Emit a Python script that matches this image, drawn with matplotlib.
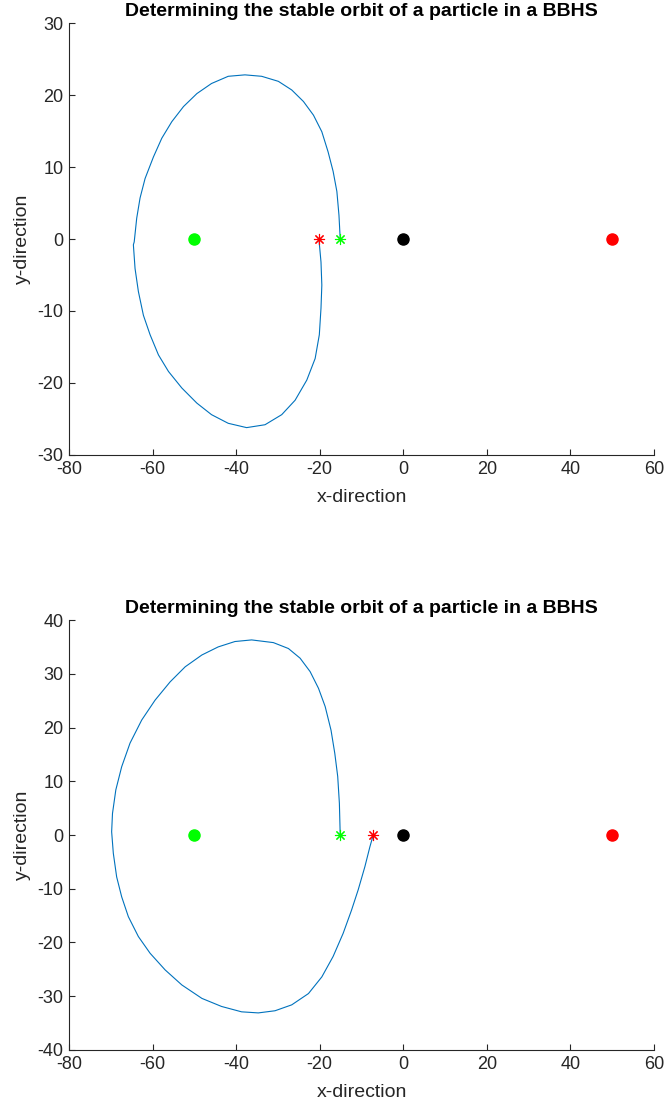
import matplotlib
matplotlib.use('Agg')
import matplotlib.pyplot as plt

plt.rcParams['font.family'] = ['Liberation Sans', 'DejaVu Sans']
plt.rcParams['axes.unicode_minus'] = False

# orbit 1 (top panel)
x1 = [-15.1, -15.4, -15.9, -16.8, -18.0, -19.5, -21.5, -23.9, -26.7, -29.9, -33.9,
      -37.9, -41.9, -45.9, -49.4, -52.6, -55.4, -57.8, -59.8, -61.8, -63.0, -63.8,
      -64.4, -64.6, -64.2, -63.4, -62.2, -60.6, -58.6, -56.2, -53.0, -49.4, -45.9,
      -41.9, -37.5, -33.1, -29.1, -25.9, -23.1, -21.1, -20.1, -19.7, -19.5, -19.7,
      -20.2]
y1 = [0.0, 3.3, 6.6, 9.4, 12.1, 14.9, 17.2, 19.1, 20.7, 21.9, 22.6,
      22.8, 22.6, 21.6, 20.2, 18.4, 16.3, 14.0, 11.4, 8.4, 5.7, 2.9,
      -0.4, -0.8, -4.1, -7.3, -10.6, -13.3, -16.1, -18.4, -20.7, -22.8, -24.4,
      -25.6, -26.2, -25.8, -24.4, -22.4, -19.6, -16.6, -13.3, -9.6, -6.4, -3.2,
      0.0]

# orbit 2 (bottom panel)
x2 = [-15.1, -15.3, -15.7, -16.4, -17.3, -18.7, -20.3, -22.3, -24.7, -27.5, -31.1,
      -36.3, -40.3, -44.3, -48.2, -52.2, -55.8, -59.4, -62.6, -65.4, -67.4, -68.8,
      -69.6, -69.8, -69.4, -68.6, -67.4, -65.8, -63.4, -60.6, -57.0, -53.0, -48.2,
      -43.5, -38.7, -34.7, -30.7, -26.7, -22.7, -19.5, -16.8, -14.4, -12.4, -10.8,
      -9.2, -8.0, -7.2]
y2 = [0.0, 5.9, 10.9, 15.2, 19.5, 23.9, 27.3, 30.4, 32.9, 34.7, 35.8,
      36.3, 36.0, 35.0, 33.5, 31.3, 28.5, 25.1, 21.4, 17.1, 12.7, 8.4,
      4.0, 0.6, -3.4, -7.8, -11.5, -15.2, -18.9, -22.0, -25.1, -27.9, -30.4,
      -31.9, -32.9, -33.1, -32.7, -31.6, -29.5, -26.4, -22.6, -18.3, -14.0, -10.2,
      -5.9, -2.2, 0.0]

# bodies: [x, y, colour]
bodies = [(-50, 0, '#00ff00'), (0, 0, 'black'), (50, 0, 'red')]

panels = [(x1, y1, (-30, 30)), (x2, y2, (-40, 40))]
rects = [[0.1038, 0.5890, 0.8797, 0.3902], [0.1038, 0.0515, 0.8797, 0.3884]]

fig = plt.figure(figsize=(6.65, 11.07), dpi=100)
for (xs, ys, ylim), rect in zip(panels, rects):
    ax = fig.add_axes(rect)
    ax.plot(xs, ys, color='#0072BD', lw=0.8)
    for bx, by, bc in bodies:
        ax.plot(bx, by, 'o', color=bc, ms=8)
    ax.plot(xs[0], ys[0], marker=(8, 2, 0), color='#00ff00', ms=8, mew=0.8, ls='none')
    ax.plot(xs[-1], ys[-1], marker=(8, 2, 0), color='red', ms=8, mew=0.8, ls='none')
    ax.set_xlim(-80, 60)
    ax.set_ylim(*ylim)
    ax.set_xticks(range(-80, 61, 20))
    ax.set_yticks(range(ylim[0], ylim[1] + 1, 10))
    for s in ['top', 'right']:
        ax.spines[s].set_visible(False)
    for s in ['left', 'bottom']:
        ax.spines[s].set_color('#262626')
        ax.spines[s].set_linewidth(0.8)
    ax.tick_params(direction='in', length=4, width=0.8, color='#262626',
                   labelcolor='#262626', labelsize=13, pad=4)
    ax.set_xlabel('x-direction', fontsize=14, color='#262626', labelpad=8)
    ax.set_ylabel('y-direction', fontsize=14, color='#262626', labelpad=5)
    ax.set_title('Determining the stable orbit of a particle in a BBHS',
                 fontsize=14, fontweight='bold', pad=5)

fig.savefig('out.png', dpi=100)
